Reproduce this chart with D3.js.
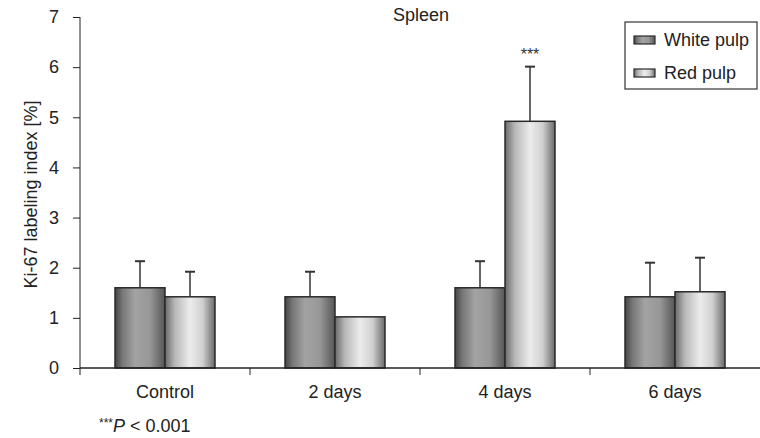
<!DOCTYPE html>
<html>
<head>
<meta charset="utf-8">
<script src="https://cdn.jsdelivr.net/npm/d3@7"></script>
<style>
  body { margin: 0; background: #fff; }
  svg { font-family: "Liberation Sans", Arial, sans-serif; }
</style>
</head>
<body>
<svg id="chart" width="760" height="438"></svg>
<script>
// data
var groups = ["Control", "2 days", "4 days", "6 days"];
var series = ["White pulp", "Red pulp"];
var whiteMean = [1.6, 1.42, 1.6, 1.42];
var whiteErr  = [2.13, 1.92, 2.13, 2.1];
var redMean   = [1.42, 1.02, 4.92, 1.52];
var redErr    = [1.92, 1.02, 6.01, 2.2];
var yTicks = [0, 1, 2, 3, 4, 5, 6, 7];

var svg = d3.select("#chart"),
    margin = {top: 17, right: 0, bottom: 70, left: 80},
    width = 760 - margin.left - margin.right,
    height = 438 - margin.top - margin.bottom;

var defs = svg.append("defs");

function grad(id, stops) {
    var g = defs.append("linearGradient").attr("id", id)
        .attr("x1", "0%").attr("x2", "100%").attr("y1", "0%").attr("y2", "0%");
    stops.forEach(function (s) {
        g.append("stop").attr("offset", s[0]).attr("stop-color", s[1]);
    });
}
grad("gWhite", [["0%", "#444"], ["15%", "#777"], ["40%", "#a3a3a3"], ["70%", "#979797"], ["100%", "#555"]]);
grad("gRed", [["0%", "#6a6a6a"], ["20%", "#b8b8b8"], ["50%", "#ececec"], ["75%", "#d0d0d0"], ["100%", "#6a6a6a"]]);

var fills = ["url(#gWhite)", "url(#gRed)"];

var g = svg.append("g").attr("transform", "translate(" + margin.left + "," + margin.top + ")");

var x0 = d3.scaleBand().domain(groups).range([0, 680]).paddingInner(0).paddingOuter(0);
// category ticks sit at band edges
var x1 = d3.scaleBand().domain(series).range([x0.bandwidth() / 2 - 50, x0.bandwidth() / 2 + 50]);
var y = d3.scaleLinear().domain([0, 7]).range([height, 0]);

var rows = groups.map(function (d, i) {
    return {group: d, vals: [
        {s: series[0], v: whiteMean[i], e: whiteErr[i]},
        {s: series[1], v: redMean[i], e: redErr[i]}
    ]};
});

// y axis
var yAxis = g.append("g")
    .call(d3.axisLeft(y).tickValues(yTicks).tickSize(7).tickFormat(d3.format("d")));
yAxis.select(".domain").attr("d", "M0," + (height + 7) + "V0").attr("stroke", "#222");
yAxis.selectAll(".tick line").attr("stroke", "#222");
yAxis.selectAll(".tick text").attr("font-size", 18).attr("fill", "#222").attr("x", -21);

// bars
var grp = g.selectAll(".grp").data(rows).enter().append("g")
    .attr("transform", function (d) { return "translate(" + x0(d.group) + ",0)"; });

grp.selectAll(".err").data(function (d) { return d.vals; }).enter().append("g")
    .each(function (d) {
        var cx = x1(d.s) + x1.bandwidth() / 2;
        if (d.e - d.v < 0.05) return;
        var e = d3.select(this);
        e.append("line").attr("x1", cx).attr("x2", cx).attr("y1", y(d.v)).attr("y2", y(d.e))
            .attr("stroke", "#333").attr("stroke-width", 1.5);
        e.append("line").attr("x1", cx - 5).attr("x2", cx + 5).attr("y1", y(d.e)).attr("y2", y(d.e))
            .attr("stroke", "#333").attr("stroke-width", 2);
    });

grp.selectAll("rect").data(function (d) { return d.vals; }).enter().append("rect")
    .attr("x", function (d) { return x1(d.s); })
    .attr("y", function (d) { return y(d.v); })
    .attr("width", x1.bandwidth())
    .attr("height", function (d) { return height - y(d.v); })
    .attr("fill", function (d, i) { return fills[i]; })
    .attr("stroke", "#2a2a2a")
    .attr("stroke-width", 1.5);

// x axis
g.append("line").attr("x1", 0).attr("x2", width).attr("y1", height).attr("y2", height)
    .attr("stroke", "#222").attr("stroke-width", 1.5);
groups.forEach(function (d, i) {
    if (i > 0) {
        g.append("line").attr("x1", x0(d)).attr("x2", x0(d)).attr("y1", height).attr("y2", height + 7)
            .attr("stroke", "#222");
    }
    g.append("text").attr("x", x0(d) + x0.bandwidth() / 2).attr("y", height + 30)
        .attr("text-anchor", "middle").attr("font-size", 18).attr("fill", "#222").text(d);
});

// significance marker
g.append("text")
    .attr("x", x0("4 days") + x1("Red pulp") + x1.bandwidth() / 2)
    .attr("y", y(redErr[2]) - 7)
    .attr("text-anchor", "middle").attr("font-size", 16).attr("fill", "#333").text("***");

// title
svg.append("text").attr("x", 421).attr("y", 21).attr("text-anchor", "middle")
    .attr("font-size", 18).attr("fill", "#222").text("Spleen");

// y label
svg.append("text").attr("transform", "translate(37," + (margin.top + height / 2 + 2) + ") rotate(-90)")
    .attr("text-anchor", "middle").attr("font-size", 18).attr("fill", "#222")
    .text("Ki-67 labeling index [%]");

// legend
var leg = svg.append("g").attr("transform", "translate(625,22)");
leg.append("rect").attr("width", 132).attr("height", 67).attr("fill", "#fff").attr("stroke", "#333").attr("stroke-width", 1.2);
series.forEach(function (s, i) {
    var ly = 18 + i * 33;
    leg.append("rect").attr("x", 9).attr("y", ly - 4).attr("width", 21).attr("height", 8)
        .attr("fill", fills[i]).attr("stroke", "#2a2a2a").attr("stroke-width", 1.2);
    leg.append("text").attr("x", 39).attr("y", ly + 6).attr("font-size", 18).attr("fill", "#222").text(s);
});

// footnote
var fn = svg.append("text").attr("x", 99).attr("y", 432).attr("fill", "#222").attr("font-size", 18);
fn.append("tspan").attr("font-size", 12).attr("dy", -5).text("***");
fn.append("tspan").attr("font-style", "italic").attr("dy", 5).text("P");
fn.append("tspan").text(" < 0.001");
</script>
</body>
</html>
